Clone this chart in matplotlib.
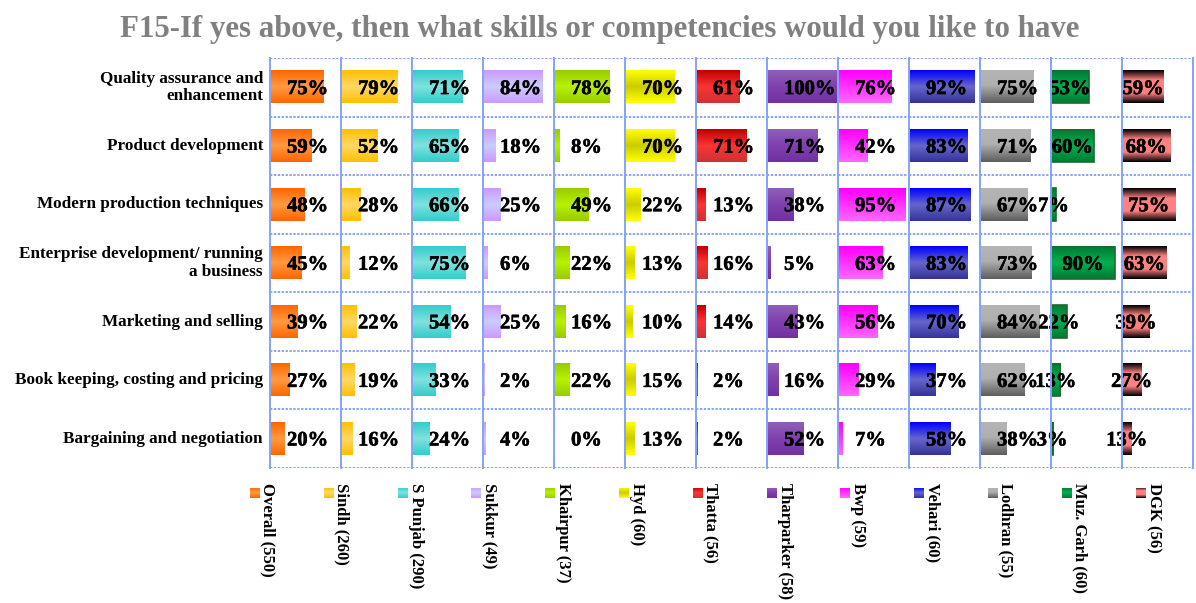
import numpy as np
import matplotlib
matplotlib.use("Agg")
import matplotlib.pyplot as plt
import matplotlib.patheffects as pe
from matplotlib.colors import LinearSegmentedColormap
from matplotlib.patches import Rectangle

# ---- data -------------------------------------------------------------
categories = [
    "Quality assurance and\nenhancement",
    "Product development",
    "Modern production techniques",
    "Enterprise development/ running\na business",
    "Marketing and selling",
    "Book keeping, costing and pricing",
    "Bargaining and negotiation",
]
series_names = ["Overall (550)", "Sindh (260)", "S Punjab (290)", "Sukkur (49)",
                "Khairpur (37)", "Hyd (60)", "Thatta (56)", "Tharparker (58)",
                "Bwp (59)", "Vehari (60)", "Lodhran (55)", "Muz. Garh (60)",
                "DGK (56)"]
overall = [75, 59, 48, 45, 39, 27, 20]
sindh = [79, 52, 28, 12, 22, 19, 16]
s_punjab = [71, 65, 66, 75, 54, 33, 24]
sukkur = [84, 18, 25, 6, 25, 2, 4]
khairpur = [78, 8, 49, 22, 16, 22, 0]
hyd = [70, 70, 22, 13, 10, 15, 13]
thatta = [61, 71, 13, 16, 14, 2, 2]
tharparker = [100, 71, 38, 5, 43, 16, 52]
bwp = [76, 42, 95, 63, 56, 29, 7]
vehari = [92, 83, 87, 83, 70, 37, 58]
lodhran = [75, 71, 67, 73, 84, 62, 38]
muz_garh = [53, 60, 7, 90, 22, 13, 3]
dgk = [59, 68, 75, 63, 39, 27, 13]
series_values = [overall, sindh, s_punjab, sukkur, khairpur, hyd, thatta,
                 tharparker, bwp, vehari, lodhran, muz_garh, dgk]

# vertical gradient stops (top -> bottom) for each series
gradients = [
    [(0, "#FF6600"), (0.5, "#FF9A40"), (1, "#FF6600")],
    [(0, "#FFC000"), (0.5, "#FFD966"), (1, "#FFC000")],
    [(0, "#33CCCC"), (0.5, "#80E2DE"), (1, "#33CCCC")],
    [(0, "#CC99FF"), (0.5, "#CCCCFF"), (1, "#CC99FF")],
    [(0, "#99CC00"), (0.5, "#B8F200"), (1, "#99CC00")],
    [(0, "#FFFF00"), (0.5, "#CCCC00"), (1, "#FFFF00")],
    [(0, "#C00000"), (0.5, "#FF3333"), (1, "#CC3333")],
    [(0, "#9060B8"), (0.5, "#8040B0"), (1, "#7030A0")],
    [(0, "#FF00FF"), (0.5, "#FF33FF"), (1, "#FF66FF")],
    [(0, "#0000FF"), (0.5, "#6666CC"), (1, "#333399")],
    [(0, "#B4B4B4"), (0.45, "#B0B0B0"), (1, "#5E5E5E")],
    [(0, "#007A33"), (0.5, "#00B050"), (1, "#007A33")],
    [(0, "#000000"), (0.3, "#FF8080"), (0.7, "#FF8080"), (1, "#000000")],
]
edge_colors = [None] * 11 + ["#1E6B2E", None]
centered_labels = [False] * 11 + [True, True]

# ---- figure ------------------------------------------------------------
W, H = 1196, 603
fig = plt.figure(figsize=(W / 100, H / 100), dpi=100)
FONT = "Liberation Serif"
GRID = "#86A3F7"
GRID_LS = (0, (1.2, 0.8))
heavy = [pe.withStroke(linewidth=0.4, foreground="black")]

left_px, right_px, top_px, bottom_px = 270, 1193, 58, 468
n_panels = len(series_values)
panel_w = (right_px - left_px) / n_panels
n_cat = len(categories)
bar_h = 0.55
y_pos = np.arange(n_cat)

grad_res = 64
for k, (vals, stops) in enumerate(zip(series_values, gradients)):
    x0 = (left_px + k * panel_w) / W
    ax = fig.add_axes([x0, 1 - bottom_px / H, panel_w / W, (bottom_px - top_px) / H])
    cmap = LinearSegmentedColormap.from_list(f"g{k}", stops)
    grad = cmap(np.linspace(0, 1, grad_res))[:, None, :]
    bars = ax.barh(y_pos, vals, height=bar_h, color="none", edgecolor="none")
    for rect, v in zip(bars, vals):
        if v <= 0:
            continue
        bx, by, bw, bh = rect.get_x(), rect.get_y(), rect.get_width(), rect.get_height()
        # y axis is inverted, so row 0 of the gradient sits at the bar's top
        ax.imshow(grad, extent=[bx, bx + bw, by + bh, by], aspect="auto",
                  interpolation="bilinear", zorder=2)
        if edge_colors[k]:
            ax.add_patch(Rectangle((bx, by), bw, bh, fill=False,
                                   edgecolor=edge_colors[k], lw=1.2, zorder=3))
    for yi, v in zip(y_pos, vals):
        if centered_labels[k]:
            ax.text(v / 2, yi + 0.03, f"{v}%", ha="center", va="center",
                    fontsize=14.8, fontweight="bold", family=FONT, zorder=4,
                    path_effects=heavy)
        else:
            ax.text(24, yi + 0.03, f"{v}%", ha="left", va="center",
                    fontsize=14.8, fontweight="bold", family=FONT, zorder=4,
                    path_effects=heavy)
    ax.set_xlim(0, 100)
    ax.set_ylim(n_cat - 0.5, -0.5)
    ax.set_xticks([])
    ax.set_yticks(np.arange(-0.5, n_cat, 1))
    ax.set_yticklabels([])
    ax.tick_params(left=False, length=0)
    ax.grid(axis="y", color=GRID, linestyle=GRID_LS, lw=1.4, zorder=0)
    for side in ["top", "bottom", "right"]:
        ax.spines[side].set_visible(False)
    ax.spines["left"].set_color(GRID)
    ax.spines["left"].set_linestyle(GRID_LS)
    ax.spines["left"].set_linewidth(1.4)
    ax.spines["left"].set_zorder(5)
    if k == n_panels - 1:
        ax.spines["right"].set_visible(True)
        ax.spines["right"].set_color(GRID)
        ax.spines["right"].set_linestyle(GRID_LS)
        ax.spines["right"].set_linewidth(1.4)
    if k == 0:
        for yi, cat in zip(y_pos, categories):
            ax.text(-10, yi, cat, ha="right", va="center",
                    fontsize=12.3, fontweight="bold", family=FONT,
                    linespacing=1.1, clip_on=False)

# ---- title --------------------------------------------------------------
fig.text(600 / W, 1 - 29 / H,
         "F15-If yes above, then what skills or competencies would you like to have",
         ha="center", va="center", fontsize=22.2, fontweight="bold",
         family=FONT, color="#808080")

# ---- legend (one entry under each panel, text running downward) -------------
leg_x0, leg_step = 250, 73.8
for k, (name, stops) in enumerate(zip(series_names, gradients)):
    mx = leg_x0 + k * leg_step
    cax = fig.add_axes([mx / W, 1 - 498 / H, 10 / W, 10 / H])
    cmap = LinearSegmentedColormap.from_list(f"l{k}", stops)
    cax.imshow(cmap(np.linspace(0, 1, 32))[:, None, :], aspect="auto",
               extent=[0, 1, 1, 0])
    cax.set_xlim(0, 1)
    cax.set_ylim(1, 0)
    cax.axis("off")
    fig.text((mx + 18) / W, 1 - 483 / H, name, rotation=270,
             ha="center", va="top", fontsize=12, fontweight="bold",
             family=FONT)

fig.savefig("out.png", dpi=100)
